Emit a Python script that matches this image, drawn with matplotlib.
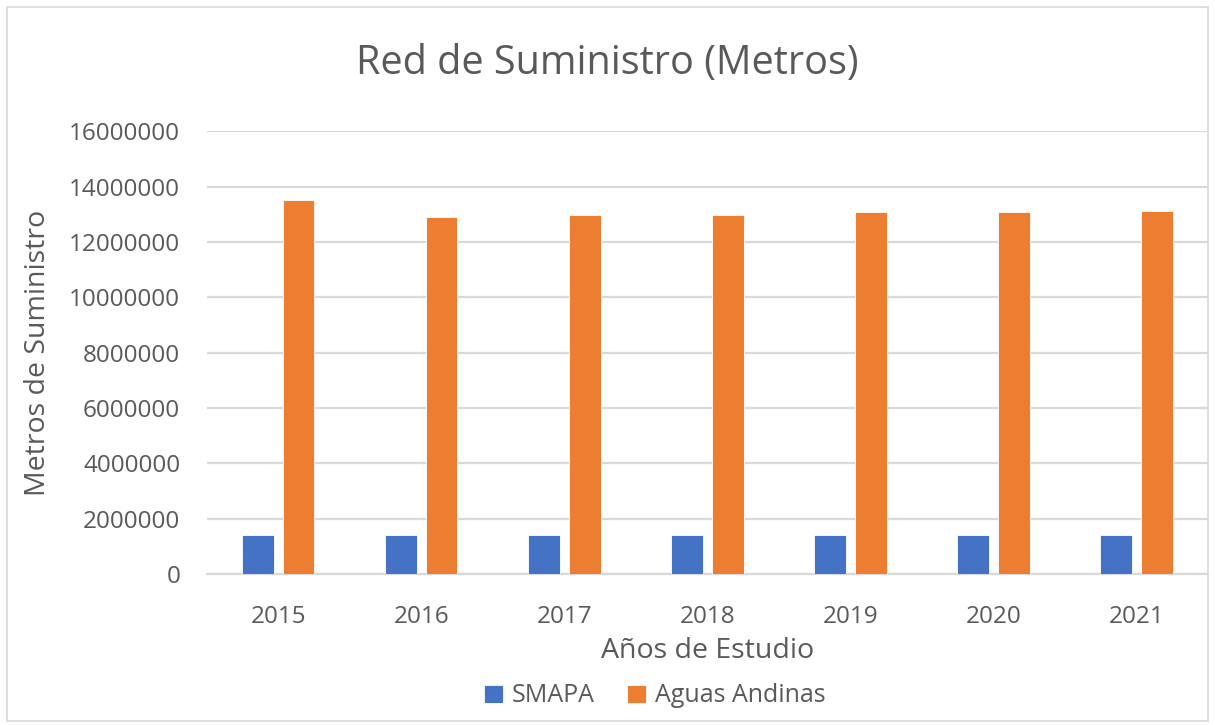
import matplotlib.pyplot as plt
import numpy as np
from matplotlib.patches import Rectangle

years = ["2015", "2016", "2017", "2018", "2019", "2020", "2021"]
smapa = [1400000, 1400000, 1400000, 1400000, 1400000, 1400000, 1400000]
aguas_andinas = [13530000, 12910000, 12970000, 12970000, 13080000, 13080000, 13130000]

BLUE = "#4472C4"
ORANGE = "#ED7D31"
TEXT = "#595959"
GRID = "#D9D9D9"

plt.rcParams["font.family"] = ["Open Sans", "DejaVu Sans"]

fig = plt.figure(figsize=(12.15, 7.25), dpi=100)
ax = fig.add_axes([0.170, 0.208, 0.824, 0.611])

x = np.arange(len(years))
w = 0.223
off = 0.143
ax.bar(x - off, smapa, w, color=BLUE, edgecolor="white", linewidth=0.6, label="SMAPA", zorder=3)
ax.bar(x + off, aguas_andinas, w, color=ORANGE, edgecolor="white", linewidth=0.6,
       label="Aguas Andinas", zorder=3)

ax.set_xlim(-0.5, len(years) - 0.5)
ax.set_ylim(0, 16000000)
ticks = np.arange(0, 16000001, 2000000)
ax.set_yticks(ticks)
ax.set_yticklabels([f"{int(v)}" for v in ticks])
ax.set_xticks(x)
ax.set_xticklabels(years)
ax.yaxis.grid(True, color=GRID, linewidth=1.6, zorder=0)
ax.tick_params(axis="both", length=0, labelsize=17.5, colors=TEXT)
ax.tick_params(axis="y", pad=19)
ax.tick_params(axis="x", pad=22)
for s in ["top", "right", "left"]:
    ax.spines[s].set_visible(False)
ax.spines["bottom"].set_color(GRID)
ax.spines["bottom"].set_linewidth(1.6)

ax.set_xlabel("Años de Estudio", fontsize=20.5, color=TEXT, labelpad=6)
ax.set_ylabel("Metros de Suministro", fontsize=20.5, color=TEXT, labelpad=12)
fig.text(0.5, 0.912, "Red de Suministro (Metros)", fontsize=28.5, color=TEXT,
         ha="center", va="center")

fig.legend(loc="center", bbox_to_anchor=(0.539, 0.04), ncol=2, frameon=False,
           fontsize=18, labelcolor=TEXT, handlelength=0.75, handleheight=0.75,
           handletextpad=0.35, columnspacing=1.3)

fig.patches.append(Rectangle((0.006, 0.006), 0.988, 0.985, transform=fig.transFigure,
                             fill=False, edgecolor=GRID, linewidth=1.2))

fig.savefig("out.png", dpi=100)
